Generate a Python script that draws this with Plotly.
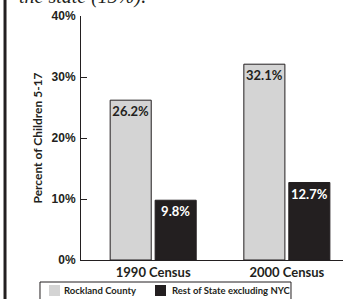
import plotly.graph_objects as go

categories = ["1990 Census", "2000 Census"]
rockland = [26.2, 32.1]
rest_of_state = [9.8, 12.7]
series_names = ["Rockland County", "Rest of State excluding NYC"]
y_ticks = [0, 10, 20, 30, 40]
y_tick_labels = ["0%", "10%", "20%", "30%", "40%"]

INK = "#231f20"
LIGHT = "#d4d4d4"
FONT = "Lato"
series_colors = [LIGHT, INK]

fig = go.Figure()
fig.add_trace(go.Bar(
    x=categories, y=rockland, name=series_names[0],
    marker=dict(color=LIGHT, line=dict(color=INK, width=1)),
    text=[f"{v:.1f}%" for v in rockland],
    textposition="inside", insidetextanchor="end", textangle=0,
    constraintext="none",
    textfont=dict(family=FONT, size=13, color=INK, weight="bold"),
    hoverinfo="skip",
))
fig.add_trace(go.Bar(
    x=categories, y=rest_of_state, name=series_names[1],
    marker=dict(color=INK, line=dict(color=INK, width=1)),
    text=[f"{v:.1f}%" for v in rest_of_state],
    textposition="inside", insidetextanchor="end", textangle=0,
    constraintext="none",
    textfont=dict(family=FONT, size=13, color="white", weight="bold"),
    hoverinfo="skip",
))

fig.update_layout(
    width=343, height=299,
    margin=dict(l=81, r=0, t=16, b=39, autoexpand=False),
    paper_bgcolor="white", plot_bgcolor="white",
    barmode="group", bargap=0.327, bargroupgap=0.087,
    showlegend=False,
    font=dict(family=FONT, color=INK),
)
fig.update_xaxes(
    range=[-0.54, 1.42], showline=True, linecolor=INK, linewidth=1,
    ticks="", showgrid=False, zeroline=False, automargin=False,
    tickfont=dict(family=FONT, size=13, color=INK, weight="bold"),
)
fig.update_yaxes(
    range=[0, 40], tickvals=y_ticks, ticktext=y_tick_labels,
    showline=True, linecolor=INK, linewidth=1,
    ticks="inside", ticklen=6, tickcolor=INK, tickwidth=1,
    showgrid=False, zeroline=False, ticklabelstandoff=2, automargin=False,
    tickfont=dict(family="Liberation Sans", size=12, color=INK, weight="bold"),
    title=dict(text="Percent of Children 5-17", standoff=6,
               font=dict(family=FONT, size=12, color=INK, weight="bold")),
)

# boxed legend below the chart
fig.add_shape(type="rect", xref="paper", yref="paper",
              x0=-0.1565, x1=0.8015, y0=-0.19, y1=-0.0902,
              line=dict(color=INK, width=1), fillcolor="white")
legend_swatch_x = [(-0.1221, -0.0802), (0.2824, 0.3244)]
legend_text_x = [-0.0725, 0.3397]
for name, color, (sx0, sx1), tx in zip(series_names, series_colors,
                                       legend_swatch_x, legend_text_x):
    fig.add_shape(type="rect", xref="paper", yref="paper",
                  x0=sx0, x1=sx1, y0=-0.1475, y1=-0.1025,
                  line=dict(width=0), fillcolor=color)
    fig.add_annotation(text=name, xref="paper", yref="paper",
                       x=tx, y=-0.125, xanchor="left", yanchor="middle",
                       showarrow=False,
                       font=dict(family=FONT, size=9.5, color=INK, weight="bold"))

# page frame line at the left edge and the cut-off sentence above the chart
fig.add_shape(type="line", xref="paper", yref="paper",
              x0=-0.29, x1=-0.29, y0=-0.3, y1=1.2,
              line=dict(color=INK, width=3))
fig.add_annotation(text="<i>the state (13%).</i>", xref="paper", yref="paper",
                   x=-0.244, y=1.024, xanchor="left", yanchor="bottom",
                   showarrow=False,
                   font=dict(family="Liberation Serif", size=20, color=INK))

fig.write_html("out.html", config={"displayModeBar": False},
               post_script="document.body.style.margin='0';document.body.style.overflow='hidden';")
